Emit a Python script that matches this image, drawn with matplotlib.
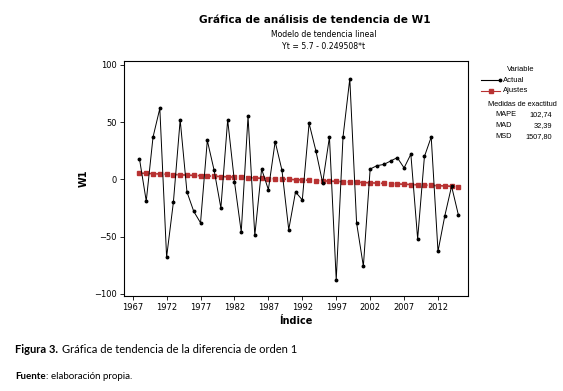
import numpy as np
import matplotlib.pyplot as plt

# datos
anios = list(range(1968, 2016))
actual = [18, -19, 37, 62, -68, -20, 52, -11, -28, -38,
          34, 8, -25, 52, -2, -46, 55, -49, 9, -9,
          33, 8, -44, -11, -18, 49, 25, -3, 37, -88,
          37, 88, -38, -76, 9, 12, 13, 16, 19, 10,
          22, -52, 20, 37, -63, -32, -6, -31]
ajustes = [5.45, 5.20, 4.95, 4.70, 4.45, 4.20, 3.95, 3.70, 3.45, 3.20,
           2.96, 2.71, 2.46, 2.21, 1.96, 1.71, 1.46, 1.21, 0.96, 0.71,
           0.46, 0.21, -0.04, -0.29, -0.54, -0.79, -1.04, -1.29, -1.54, -1.79,
           -2.03, -2.28, -2.53, -2.78, -3.03, -3.28, -3.53, -3.78, -4.03, -4.28,
           -4.53, -4.78, -5.03, -5.28, -5.53, -5.78, -6.03, -6.28]
xticks = list(range(1967, 2013, 5))
yticks = [-100, -50, 0, 50, 100]
medidas = ["MAPE", "MAD", "MSD"]
valores = ["102,74", "32,39", "1507,80"]

fig = plt.figure(figsize=(5.63, 3.91), dpi=100)
ax = fig.add_axes([0.220, 0.243, 0.611, 0.601])

rojo = "#b83232"
ax.plot(anios, ajustes, color=rojo, ls=(0, (3, 2)), lw=1.2,
        marker="s", ms=2.3, mec=rojo, mfc=rojo)
ax.plot(anios, actual, color="black", lw=0.7, marker="o", ms=1.8)

ax.set_xlim(1965.7, 2016.4)
ax.set_ylim(-102, 103.5)
ax.set_xticks(xticks)
ax.set_yticks(yticks)
ax.tick_params(labelsize=6, length=3, width=0.6, pad=2)
for s in ax.spines.values():
    s.set_linewidth(0.8)

ax.set_xlabel("Índice", fontsize=7, fontweight="bold", labelpad=3)
ax.set_ylabel("W1", fontsize=7, fontweight="bold", labelpad=4)

fig.text(0.560, 0.948, "Gráfica de análisis de tendencia de W1",
         ha="center", va="center", fontsize=7.6, fontweight="bold")
fig.text(0.575, 0.913, "Modelo de tendencia lineal", ha="center", va="center", fontsize=5.6)
fig.text(0.575, 0.882, "Yt = 5.7 - 0.249508*t", ha="center", va="center", fontsize=5.6)

# leyenda
lf = "Liberation Sans"
fig.text(0.925, 0.822, "Variable", ha="center", va="center", fontsize=5.5, family=lf)
fig.lines.append(plt.Line2D([0.855, 0.888], [0.795, 0.795], transform=fig.transFigure,
                            color="black", lw=0.8, marker="o", ms=1.8, markevery=[1]))
fig.lines.append(plt.Line2D([0.855, 0.8715, 0.888], [0.768, 0.768, 0.768],
                            transform=fig.transFigure,
                            color=rojo, lw=0.8, marker="s", ms=2.3, markevery=[1]))
fig.text(0.894, 0.795, "Actual", ha="left", va="center", fontsize=5.5, family=lf)
fig.text(0.894, 0.768, "Ajustes", ha="left", va="center", fontsize=5.5, family=lf)

fig.text(0.927, 0.733, "Medidas de exactitud", ha="center", va="center", fontsize=5.3, family=lf)
for i, (m, v) in enumerate(zip(medidas, valores)):
    y = 0.706 - i * 0.028
    fig.text(0.880, y, m, ha="left", va="center", fontsize=5.3, family=lf)
    fig.text(0.980, y, v, ha="right", va="center", fontsize=5.3, family=lf)

# pie de figura
r = fig.canvas.get_renderer()
t1 = fig.text(0.027, 0.105, "Figura 3.", ha="left", va="center", fontsize=8,
              fontweight="bold", family="Lato")
x1 = fig.transFigure.inverted().transform(t1.get_window_extent(r))[1][0]
fig.text(x1 + 0.006, 0.105, "Gráfica de tendencia de la diferencia de orden 1",
         ha="left", va="center", fontsize=8, family="Lato")
t2 = fig.text(0.027, 0.036, "Fuente", ha="left", va="center", fontsize=7,
              fontweight="bold", family="Lato")
x2 = fig.transFigure.inverted().transform(t2.get_window_extent(r))[1][0]
fig.text(x2, 0.036, ": elaboración propia.", ha="left", va="center", fontsize=7,
         family="Lato")

plt.savefig("out.png", dpi=100)
